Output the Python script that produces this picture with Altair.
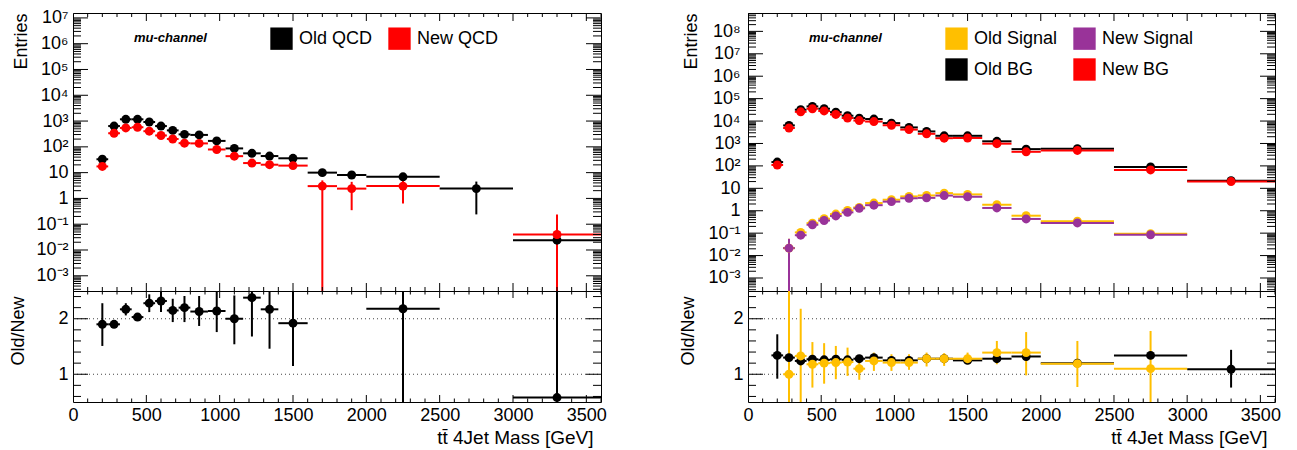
import altair as alt
import pandas as pd

FONT = "Liberation Sans"

# ---------------- binning ----------------
BIN_CENTERS = [200, 280, 360, 440, 520, 600, 680, 760, 860, 980, 1100, 1220, 1340, 1500, 1700, 1900, 2250, 2750, 3300]
BIN_LO = [160, 240, 320, 400, 480, 560, 640, 720, 800, 920, 1040, 1160, 1280, 1400, 1600, 1800, 2000, 2500, 3000]
BIN_HI = [240, 320, 400, 480, 560, 640, 720, 800, 920, 1040, 1160, 1280, 1400, 1600, 1800, 2000, 2500, 3000, 3600]

# ---------------- left panel: QCD ----------------
QCD_OLD_X = [200, 280, 360, 440, 520, 600, 680, 760, 860, 980, 1100, 1220, 1340, 1500, 1700, 1900, 2250, 2750, 3300]
QCD_OLD = [33, 640, 1170, 1170, 920, 640, 435, 305, 290, 170, 87, 56, 44, 36, 10, 8.1, 6.9, 2.4, 0.024]
QCD_OLD_LO = [27, 600, 1110, 1110, 870, 600, 405, 280, 265, 152, 76, 47, 36, 29, 8.6, 6.5, 5.6, 0.24, 0.00001]
QCD_OLD_HI = [39, 680, 1230, 1230, 970, 680, 465, 330, 315, 188, 98, 65, 52, 43, 11.6, 9.8, 8.3, 4.5, 0.06]

QCD_NEW_X = [200, 280, 360, 440, 520, 600, 680, 760, 860, 980, 1100, 1220, 1340, 1500, 1700, 1900, 2250, 3300]
QCD_NEW = [17.4, 337, 540, 576, 404, 276, 202, 139, 136, 79, 43.5, 23.5, 20.3, 18.7, 3.0, 2.4, 3.0, 0.04]
QCD_NEW_LO = [13, 310, 505, 540, 375, 255, 185, 125, 122, 69, 36, 18.5, 15.5, 14, 0.00001, 0.35, 0.63, 0.00001]
QCD_NEW_HI = [22, 365, 575, 612, 433, 297, 219, 153, 150, 89, 51, 28.5, 25, 23.5, 5.0, 4.4, 6.0, 0.24]

QCD_RATIO_X = [200, 280, 360, 440, 520, 600, 680, 760, 860, 980, 1100, 1220, 1340, 1500, 2250, 3300]
QCD_RATIO = [1.90, 1.90, 2.17, 2.03, 2.28, 2.32, 2.15, 2.20, 2.13, 2.14, 2.00, 2.38, 2.17, 1.92, 2.18, 0.58]
QCD_RATIO_LO = [1.51, 1.85, 2.06, 1.98, 2.12, 2.12, 1.94, 1.94, 1.87, 1.76, 1.54, 1.68, 1.46, 1.15, 0.0, 0.0]
QCD_RATIO_HI = [2.28, 1.95, 2.28, 2.08, 2.44, 2.48, 2.36, 2.41, 2.41, 2.50, 2.42, 2.60, 2.60, 2.60, 3.00, 3.00]

# ---------------- right panel: signal & background ----------------
BG_X = [200, 280, 360, 440, 520, 600, 680, 760, 860, 980, 1100, 1220, 1340, 1500, 1700, 1900, 2250, 2750, 3300]
BG_OLD = [148, 6400, 32000, 45000, 35500, 25000, 17300, 13500, 12300, 8100, 5200, 3450, 2200, 2200, 1250, 560, 585, 89, 22]
BG_NEW = [110, 4900, 25800, 35500, 28200, 19700, 13700, 10500, 9500, 6500, 4150, 2700, 1720, 1760, 980, 425, 490, 66, 20]

SIG_X = [280, 360, 440, 520, 600, 680, 760, 860, 980, 1100, 1220, 1340, 1500, 1700, 1900, 2250, 2750]
SIG_OLD = [0.0215, 0.108, 0.28, 0.44, 0.71, 1.03, 1.41, 2.2, 3.1, 4.35, 4.8, 6.1, 5.35, 1.85, 0.60, 0.34, 0.094]
SIG_OLD_LO = [0.00001, 0.085, 0.25, 0.41, 0.67, 0.98, 1.35, 2.1, 2.95, 4.15, 4.6, 5.85, 5.1, 1.7, 0.54, 0.31, 0.085]
SIG_OLD_HI = [0.056, 0.13, 0.31, 0.47, 0.75, 1.08, 1.47, 2.3, 3.25, 4.55, 5.0, 6.35, 5.6, 2.0, 0.66, 0.37, 0.103]
SIG_NEW = [0.0215, 0.081, 0.237, 0.366, 0.585, 0.845, 1.28, 1.77, 2.55, 3.6, 3.75, 4.75, 4.2, 1.33, 0.43, 0.285, 0.085]
SIG_NEW_LO = [0.00001, 0.06, 0.21, 0.34, 0.55, 0.80, 1.22, 1.69, 2.43, 3.45, 3.6, 4.55, 4.0, 1.22, 0.38, 0.26, 0.076]
SIG_NEW_HI = [0.056, 0.10, 0.265, 0.39, 0.62, 0.89, 1.34, 1.85, 2.67, 3.75, 3.9, 4.95, 4.4, 1.44, 0.48, 0.31, 0.094]

BG_RATIO = [1.34, 1.30, 1.24, 1.27, 1.26, 1.27, 1.26, 1.28, 1.30, 1.25, 1.25, 1.28, 1.28, 1.25, 1.28, 1.32, 1.20, 1.34, 1.09]
BG_RATIO_LO = [0.92, 1.27, 1.22, 1.25, 1.24, 1.25, 1.24, 1.26, 1.28, 1.23, 1.23, 1.26, 1.25, 1.22, 1.24, 1.27, 1.15, 1.28, 0.76]
BG_RATIO_HI = [1.72, 1.33, 1.26, 1.29, 1.28, 1.29, 1.28, 1.30, 1.32, 1.27, 1.27, 1.30, 1.31, 1.28, 1.32, 1.37, 1.25, 1.40, 1.44]
SIG_RATIO = [1.00, 1.33, 1.18, 1.20, 1.21, 1.22, 1.10, 1.24, 1.21, 1.21, 1.28, 1.28, 1.28, 1.39, 1.39, 1.19, 1.10]
SIG_RATIO_LO = [0.0, 0.0, 0.76, 0.83, 0.91, 0.97, 0.90, 1.06, 1.06, 1.08, 1.14, 1.15, 1.18, 1.18, 0.98, 0.77, 0.0]
SIG_RATIO_HI = [3.0, 2.18, 1.58, 1.56, 1.51, 1.48, 1.26, 1.39, 1.36, 1.36, 1.39, 1.38, 1.39, 1.60, 1.76, 1.60, 1.78]

# ---------------- ticks / labels ----------------
X_MAJOR = [0, 500, 1000, 1500, 2000, 2500, 3000, 3500]
X_MINOR = [v for v in range(100, 3601, 100) if v % 500 != 0]
DEC_LEFT = [1e-3, 1e-2, 1e-1, 1, 10, 1e2, 1e3, 1e4, 1e5, 1e6, 1e7]
DEC_RIGHT = [1e-3, 1e-2, 1e-1, 1, 10, 1e2, 1e3, 1e4, 1e5, 1e6, 1e7, 1e8]
LOG_MINOR = [k * 10.0 ** e for e in range(-4, 9) for k in range(2, 10)]
R_MAJOR = [1, 2]
R_MINOR = [0.6, 0.8, 1.2, 1.4, 1.6, 1.8, 2.2, 2.4]
R_GRID = [1, 2]

CHANNEL_TEXT = "mu-channel"
X_TITLE = "tt\u0304 4Jet Mass [GeV]"

LOG_LABEL = ("datum.value == 1 ? '1' : datum.value == 10 ? '10' : '10' + "
             "['\u207b\u00b3','\u207b\u00b2','\u207b\u00b9','\u2070','\u00b9','\u00b2','\u00b3',"
             "'\u2074','\u2075','\u2076','\u2077','\u2078','\u2079'][round(log(datum.value)/LN10) + 3]")

W_L, W_R = 528, 527
H_UP, H_LO = 278, 111


def rows(name, color, xs, ys, lo, hi):
    out = []
    for x, y, l, h in zip(xs, ys, lo, hi):
        i = BIN_CENTERS.index(x)
        out.append(dict(series=name, col=color, x=x, xlo=BIN_LO[i], xhi=BIN_HI[i], y=y, lo=l, hi=h))
    return out


def tick_layers(W, H, xs, xa, ys, ya, xmaj, xmin, ymaj_vals, ymin_vals, ymaj, ymin):
    layers = []
    for vals, L in ((X_MAJOR, xmaj), (X_MINOR, xmin)):
        b = alt.Chart(pd.DataFrame({"v": vals})).mark_rule(color="black", strokeWidth=1, clip=True)
        layers.append(b.encode(x=alt.X("v:Q", scale=xs, axis=xa), y=alt.value(0), y2=alt.value(L)))
        layers.append(b.encode(x=alt.X("v:Q", scale=xs, axis=xa), y=alt.value(H), y2=alt.value(H - L)))
    for vals, L in ((ymaj_vals, ymaj), (ymin_vals, ymin)):
        b = alt.Chart(pd.DataFrame({"v": vals})).mark_rule(color="black", strokeWidth=1, clip=True)
        layers.append(b.encode(y=alt.Y("v:Q", scale=ys, axis=ya), x=alt.value(0), x2=alt.value(L)))
        layers.append(b.encode(y=alt.Y("v:Q", scale=ys, axis=ya), x=alt.value(W), x2=alt.value(W - L)))
    return layers


def data_layers(df, xs, xa, ys, ya, point_color):
    base = alt.Chart(df)
    vr = base.mark_rule(strokeWidth=2, clip=True).encode(
        x=alt.X("x:Q", scale=xs, axis=xa), y=alt.Y("lo:Q", scale=ys, axis=ya), y2="hi:Q",
        stroke=alt.Stroke("col:N", scale=None))
    hr = base.mark_rule(strokeWidth=2, clip=True).encode(
        x=alt.X("xlo:Q", scale=xs, axis=xa), x2="xhi:Q", y=alt.Y("y:Q", scale=ys, axis=ya),
        stroke=alt.Stroke("col:N", scale=None))
    pt = base.mark_circle(size=80, opacity=1, clip=True).encode(
        x=alt.X("x:Q", scale=xs, axis=xa), y=alt.Y("y:Q", scale=ys, axis=ya), **point_color)
    return [vr, hr, pt]


def legend():
    return alt.Legend(orient="none", legendX=197, legendY=14, direction="horizontal", columns=2,
                      title=None, symbolType="square", symbolSize=500, symbolStrokeWidth=0,
                      labelFont=FONT, labelFontSize=18, labelColor="black", labelOffset=6,
                      columnPadding=15, rowPadding=8, padding=0)


def make_column(W, upper_df, domain, rng, ratio_df, ylog_domain, decades, ent_x, ratio_x, lab_pad):
    xs = alt.Scale(domain=[0, 3600], nice=False, zero=False)
    ys_up = alt.Scale(type="log", domain=ylog_domain, nice=False)
    ys_lo = alt.Scale(domain=[0.5, 2.5], nice=False, zero=False)

    xa_up = None
    ya_up = alt.Axis(title="Entries", values=decades, labelExpr=LOG_LABEL, ticks=False, tickSize=0,
                     domain=False, grid=False, labelFont=FONT, labelFontSize=18, labelColor="black",
                     labelPadding=lab_pad, labelOverlap=False, titleFont=FONT, titleFontSize=18,
                     titleFontWeight="normal", titleColor="black", titleAngle=270, titleAlign="right",
                     titleAnchor="end", titleBaseline="middle", titleX=ent_x, titleY=0)
    xa_lo = alt.Axis(title=X_TITLE, values=X_MAJOR, format="d", ticks=False, tickSize=0, domain=False,
                     grid=False, labelFont=FONT, labelFontSize=18, labelColor="black", labelPadding=4,
                     labelFlush=False, labelOverlap=False, titleFont=FONT, titleFontSize=19,
                     titleFontWeight="normal", titleColor="black", titleAnchor="end", titleAlign="right",
                     titleBaseline="alphabetic", titleX=W - 8, titleY=41)
    ya_lo = alt.Axis(title="Old/New", values=R_MAJOR, format="d", ticks=False, tickSize=0, domain=False,
                     grid=False, labelFont=FONT, labelFontSize=18, labelColor="black", labelPadding=5,
                     titleFont=FONT, titleFontSize=18, titleFontWeight="normal", titleColor="black",
                     titleAngle=270, titleAlign="right", titleAnchor="end", titleBaseline="middle",
                     titleX=ratio_x, titleY=5)

    up_color = {"color": alt.Color("series:N", scale=alt.Scale(domain=domain, range=rng), legend=legend())}
    text = alt.Chart(pd.DataFrame({"t": [CHANNEL_TEXT]})).mark_text(
        align="left", baseline="middle", font=FONT, fontSize=13, fontStyle="italic", fontWeight="bold",
        color="black").encode(text="t:N", x=alt.value(61), y=alt.value(25))
    upper = alt.layer(
        *data_layers(upper_df, xs, xa_up, ys_up, ya_up, up_color),
        *tick_layers(W, H_UP, xs, xa_up, ys_up, ya_up, 8, 4, decades, LOG_MINOR, 15, 8),
        text,
    ).properties(width=W, height=H_UP)

    grid = alt.Chart(pd.DataFrame({"v": R_GRID})).mark_rule(
        color="#444444", strokeWidth=1, strokeDash=[1, 3]).encode(
        y=alt.Y("v:Q", scale=ys_lo, axis=ya_lo), x=alt.value(0), x2=alt.value(W))
    lo_color = {"fill": alt.Fill("col:N", scale=None)}
    lower = alt.layer(
        grid,
        *data_layers(ratio_df, xs, xa_lo, ys_lo, ya_lo, lo_color),
        *tick_layers(W, H_LO, xs, xa_lo, ys_lo, ya_lo, 7, 3.5, R_MAJOR, R_MINOR, 15, 8),
    ).properties(width=W, height=H_LO)
    return alt.vconcat(upper, lower, spacing=0, bounds="flush")


left_up = pd.DataFrame(
    rows("Old QCD", "#000000", QCD_OLD_X, QCD_OLD, QCD_OLD_LO, QCD_OLD_HI)
    + rows("New QCD", "#ff0000", QCD_NEW_X, QCD_NEW, QCD_NEW_LO, QCD_NEW_HI))
left_ratio = pd.DataFrame(rows("ratio", "#000000", QCD_RATIO_X, QCD_RATIO, QCD_RATIO_LO, QCD_RATIO_HI))

right_up = pd.DataFrame(
    rows("Old BG", "#000000", BG_X, BG_OLD, BG_OLD, BG_OLD)
    + rows("New BG", "#ff0000", BG_X, BG_NEW, BG_NEW, BG_NEW)
    + rows("Old Signal", "#ffbf00", SIG_X, SIG_OLD, SIG_OLD_LO, SIG_OLD_HI)
    + rows("New Signal", "#993399", SIG_X, SIG_NEW, SIG_NEW_LO, SIG_NEW_HI))
right_ratio = pd.DataFrame(
    rows("bg", "#000000", BG_X, BG_RATIO, BG_RATIO_LO, BG_RATIO_HI)
    + rows("sig", "#ffbf00", SIG_X, SIG_RATIO, SIG_RATIO_LO, SIG_RATIO_HI))

left_col = make_column(W_L, left_up, ["Old QCD", "New QCD"], ["#000000", "#ff0000"], left_ratio,
                       [2.57e-4, 1.55e7], DEC_LEFT, -52, -55, 5)
right_col = make_column(W_R, right_up, ["Old Signal", "New Signal", "Old BG", "New BG"],
                        ["#ffbf00", "#993399", "#000000", "#ff0000"], right_ratio,
                        [2.63e-4, 6.6e8], DEC_RIGHT, -57, -60, 8)

chart = alt.hconcat(left_col, right_col, spacing=71).resolve_scale(
    color="independent").properties(
    padding={"left": 0, "top": 0, "right": 0, "bottom": 0}).configure(
    font=FONT).configure_view(stroke="black", strokeWidth=1)

chart.save("out.html", embed_options={"renderer": "svg", "actions": False})
